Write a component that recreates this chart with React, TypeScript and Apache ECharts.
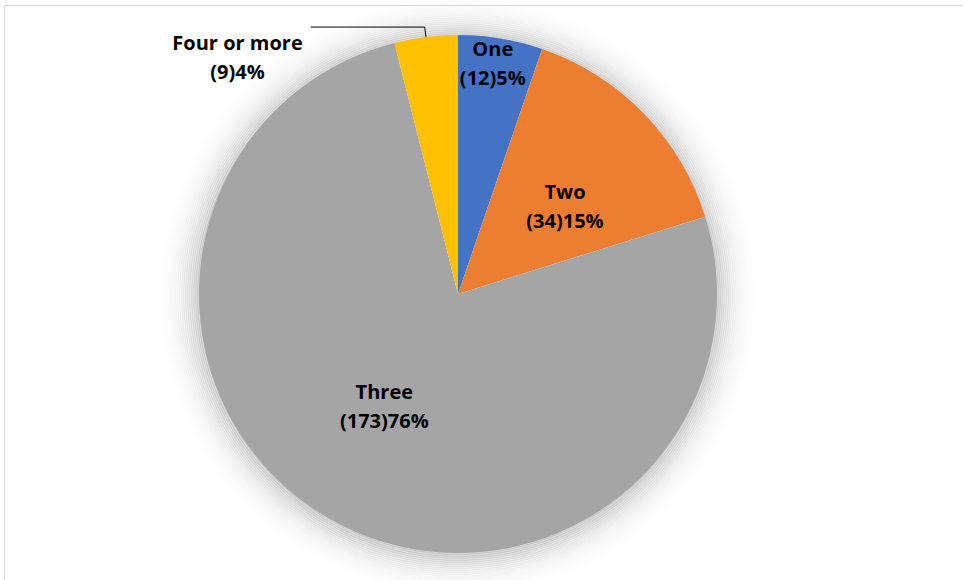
import React, { useEffect, useRef } from 'react';
import * as echarts from 'echarts';

const categories = ['One', 'Two', 'Three', 'Four or more'];
const counts = [12, 34, 173, 9];
const colors = ['#4472C4', '#ED7D31', '#A5A5A5', '#FFC000'];

// label nudges (layout only)
const labelNudges: Array<[number, number]> = [
  [13, -100],
  [12, 4],
  [-9, -4],
  [0, 30],
];

// soft glow around the pie (style only): opacity per 2px ring
const glowAlphas = [
  0.16, 0.15, 0.14, 0.125, 0.11, 0.097, 0.085, 0.074, 0.064, 0.055, 0.047,
  0.04, 0.034, 0.028, 0.023, 0.018, 0.014, 0.011, 0.008, 0.006, 0.004, 0.002,
];

export default function App() {
  const ref = useRef<HTMLDivElement>(null);
  useEffect(() => {
    if (!ref.current) return;
    const chart = echarts.init(ref.current, undefined, { renderer: 'svg' });
    const font = '"Open Sans", sans-serif';
    const textStyle = {
      fontFamily: font,
      fontWeight: 'bold' as const,
      fontSize: 20,
      color: '#000',
      lineHeight: 29,
      align: 'center' as const,
    };
    const glowSeries = glowAlphas.map((a, k) => ({
      type: 'pie',
      silent: true,
      center: [458, 296],
      radius: [256 + k * 2, 258.5 + k * 2],
      z: 1,
      label: { show: false },
      labelLine: { show: false },
      itemStyle: { color: `rgba(0,0,0,${a})`, borderWidth: 0 },
      data: [{ value: 1, name: 'glow' + k }],
    }));
    chart.setOption({
      animation: false,
      backgroundColor: 'transparent',
      series: [
        ...glowSeries,
        {
          type: 'pie',
          center: [458, 294],
          radius: 259,
          startAngle: 90,
          clockwise: true,
          percentPrecision: 0,
          z: 2,
          itemStyle: { borderWidth: 0 },
          label: {
            show: true,
            position: 'inside',
            formatter: '{t|{b}}\n{t|({c}){d}%}',
            rich: { t: textStyle },
            ...textStyle,
          },
          labelLine: { show: false },
          labelLayout: (params: any) => {
            const n = labelNudges[params.dataIndex] || [0, 0];
            return { dx: n[0], dy: n[1] };
          },
          data: categories.map((name, i) => {
            const item: any = {
              name,
              value: counts[i],
              itemStyle: { color: colors[i] },
            };
            if (i === 3) {
              item.label = {
                position: 'outside',
                distanceToLabelLine: 8,
              };
              item.labelLine = {
                show: true,
                length: 10,
                length2: 114,
                smooth: false,
                lineStyle: { color: '#000', width: 1 },
              };
            }
            return item;
          }),
        },
      ],
    });
    return () => chart.dispose();
  }, []);
  return (
    <div style={{ position: 'absolute', left: 0, top: 0, width: 963, height: 580, background: '#fff' }}>
      <div
        style={{
          position: 'absolute',
          left: 4,
          top: 5,
          width: 1000,
          height: 700,
          borderTop: '1px solid #d9d9d9',
          borderLeft: '1px solid #d9d9d9',
        }}
      />
      <div ref={ref} style={{ position: 'absolute', left: 0, top: 0, width: 963, height: 580 }} />
    </div>
  );
}
